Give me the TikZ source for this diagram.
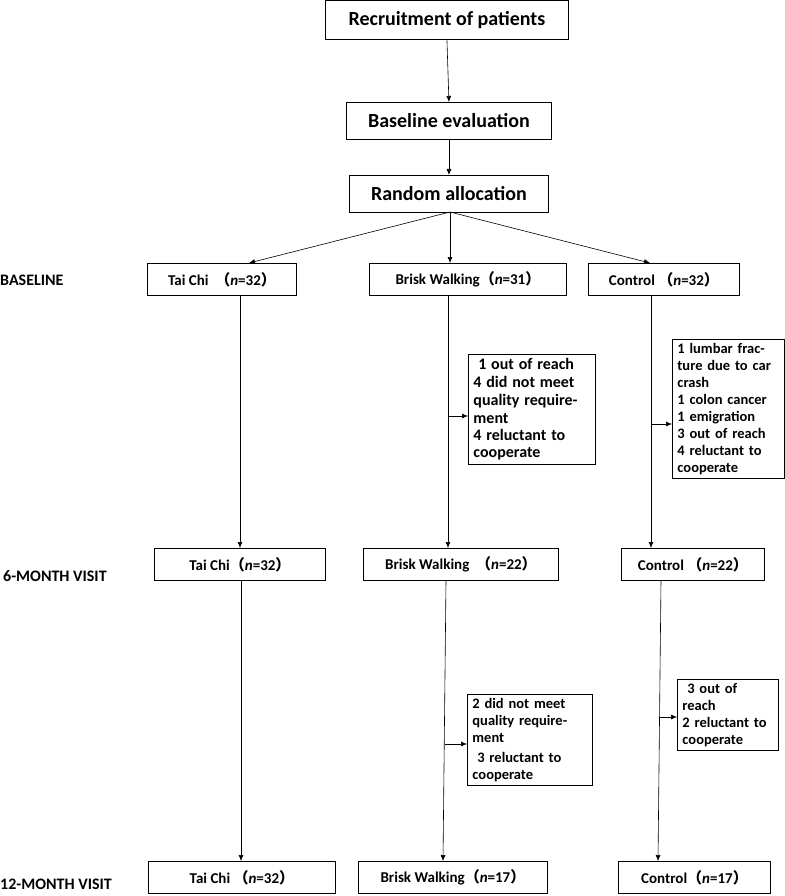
\documentclass[tikz,border=0pt]{standalone}
\usepackage{fontspec}
\setmainfont{Carlito}
\newfontfamily\cjk{Noto Sans CJK SC}
\usetikzlibrary{arrows.meta}
\newcommand{\lp}{{\cjk （}}
\newcommand{\rp}{{\cjk ）}}
\tikzset{
  box/.style={draw, line width=0.9pt, inner sep=0pt, font=\bfseries\fontsize{15}{17}\selectfont, anchor=north west},
  big/.style={box, font=\bfseries\fontsize{20}{23}\selectfont},
  side/.style={draw, line width=0.9pt, inner xsep=5pt, inner ysep=4pt, anchor=north west, align=left, font=\bfseries\fontsize{14.5}{17}\selectfont},
  lbl/.style={font=\bfseries\fontsize{16}{18}\selectfont, anchor=west, inner sep=0pt},
  arr/.style={-{Latex[length=6pt,width=5pt]}, line width=0.6pt}
}
\begin{document}
\begin{tikzpicture}[x=1pt,y=-1pt]
\useasboundingbox (0,0) rectangle (784,896);
\node[big, minimum width=243pt, minimum height=39pt] (rec) at (325,0.5) {Recruitment of patients};
\node[big, minimum width=205pt, minimum height=37pt] (bev) at (346,102) {Baseline evaluation};
\node[big, minimum width=199pt, minimum height=37pt] (ran) at (349,175) {Random allocation};

\node[lbl] (l1) at (0,280) {BASELINE};
\node[lbl] (l2) at (3,576) {6-MONTH VISIT};
\node[lbl] (l3) at (0,884) {12-MONTH VISIT};

\node[box, minimum width=149pt, minimum height=32pt] (t0) at (147,263) {Tai Chi\ \ \lp\textit{n}=32\rp};
\node[box, minimum width=197pt, minimum height=32pt] (b0) at (369,263) {Brisk Walking\lp\textit{n}=31\rp};
\node[box, minimum width=151pt, minimum height=32pt] (c0) at (588,263) {Control\ \lp\textit{n}=32\rp};

\node[box, minimum width=171pt, minimum height=32pt] (t1) at (154,548) {Tai Chi\lp\textit{n}=32\rp};
\node[box, minimum width=195pt, minimum height=32pt] (b1) at (363,548) {Brisk Walking\ \ \lp\textit{n}=22\rp};
\node[box, minimum width=143pt, minimum height=32pt] (c1) at (621,548) {Control\ \lp\textit{n}=22\rp};

\node[box, minimum width=187pt, minimum height=32pt] (t2) at (148,861) {Tai Chi\ \lp\textit{n}=32\rp};
\node[box, minimum width=189pt, minimum height=32pt] (b2) at (358,861) {Brisk Walking\lp\textit{n}=17\rp};
\node[box, minimum width=152pt, minimum height=32pt] (c2) at (618,861) {Control\lp\textit{n}=17\rp};

\node[side, text width=117pt] (s1) at (468,354) {\fontsize{16}{18}\selectfont\ 1 out of reach\\4 did not meet quality requirement\\4 reluctant to cooperate};
\node[side, text width=102pt] (s2) at (672,339) {1 lumbar fracture due to car crash\\1 colon cancer\\1 emigration\\3 out of reach\\4 reluctant to cooperate};
\node[side, text width=115pt] (s3) at (467,694) {2 did not meet quality requirement\\[3pt]\ 3 reluctant to cooperate};
\node[side, text width=91pt] (s4) at (677,679) {\ 3 out of reach\\2 reluctant to cooperate};

\draw[arr] (rec.south) -- (bev.south |- bev.north);
\draw[arr] (bev.south) -- (ran.north);
\coordinate (rs) at (450,212);
\draw[arr] (rs) -- (249,263);
\draw[arr] (rs) -- (rs |- b0.north);
\draw[arr] (rs) -- (650,263);

\draw[arr] (240,295) -- (240,548);
\draw[arr] (448,295) -- (448,548);
\draw[arr] (651,295) -- (651,548);
\draw[arr] (241,580) -- (241,861);
\draw[arr] (446,580) -- (443,861);
\draw[arr] (661,580) -- (658,861);

\draw[arr] (448,416) -- (s1.west |- 0,416);
\draw[arr] (651,424) -- (s2.west |- 0,424);
\draw[arr] (445,744) -- (s3.west |- 0,744);
\draw[arr] (660,717) -- (s4.west |- 0,717);
\end{tikzpicture}
\end{document}
